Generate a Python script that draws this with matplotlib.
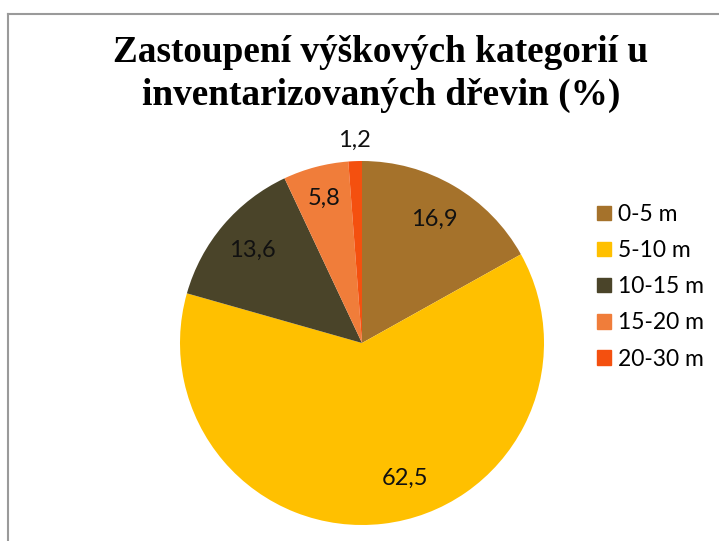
import matplotlib.pyplot as plt
import numpy as np

# data
categories = ["0-5 m", "5-10 m", "10-15 m", "15-20 m", "20-30 m"]
values = [16.9, 62.5, 13.6, 5.8, 1.2]
value_labels = ["16,9", "62,5", "13,6", "5,8", "1,2"]
colors = ["#A5722B", "#FFC000", "#4A4429", "#F07D3A", "#F4500F"]

# where the numbers sit (radius as fraction, extra turn in degrees)
label_r = [0.79, 0.78, 0.79, 0.82, 1.115]
label_turn = [0, 11, 0, 0, 0]

W, H = 719, 541
fig = plt.figure(figsize=(W / 100, H / 100), dpi=100)

# grey frame (only left and top edges visible)
fig.add_artist(plt.Line2D([8 / W, 8 / W], [0, 1 - 14 / H], color="#9a9a9a", lw=1.5))
fig.add_artist(plt.Line2D([8 / W, 1], [1 - 14 / H, 1 - 14 / H], color="#9a9a9a", lw=1.5))

fig.text(381 / W, 1 - 74 / H, "Zastoupení výškových kategorií u\ninventarizovaných dřevin (%)",
         ha="center", va="center", family="Liberation Serif", weight="bold",
         fontsize=26.8, linespacing=1.31)

cx, cy, r = 362, 343, 182
ax = fig.add_axes([(cx - r) / W, (H - cy - r) / H, 2 * r / W, 2 * r / H])
wedges, _ = ax.pie(values, colors=colors, startangle=90, counterclock=False,
                   radius=1, wedgeprops=dict(linewidth=0))
ax.set_xlim(-1, 1)
ax.set_ylim(-1, 1)
ax.axis("off")

for w, lab, rr, turn in zip(wedges, value_labels, label_r, label_turn):
    mid = np.deg2rad((w.theta1 + w.theta2) / 2 + turn)
    ax.text(rr * np.cos(mid), rr * np.sin(mid), lab, ha="center", va="center",
            family="Lato", fontsize=17, color="#111111")

handles = [plt.Rectangle((0, 0), 1, 1, color=c) for c in colors]
fig.legend(handles, categories, loc="upper left", bbox_to_anchor=(597 / W, 1 - 204 / H),
           frameon=False, prop=dict(family="Lato", size=16.5),
           borderpad=0, borderaxespad=0,
           handlelength=0.6, handleheight=0.6, handletextpad=0.3, labelspacing=0.66)

fig.savefig("out.png", dpi=100)
